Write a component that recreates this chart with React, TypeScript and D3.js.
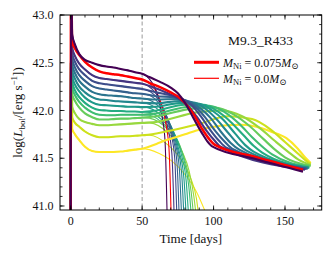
import * as d3 from "d3";

// shared early part (shock breakout + plateau), times in days
const earlyTimes = [0, 0.2, 1, 3, 6, 10, 15, 20, 25, 30, 35, 40, 45, 50];

// log L for each model at earlyTimes, brightest (purple) to faintest (yellow)
const earlyLum: number[][] = [
  [40.5, 43.6, 42.8, 42.69, 42.59, 42.53, 42.5, 42.475, 42.46, 42.45, 42.435, 42.42, 42.4, 42.385],
  [40.5, 43.6, 42.72, 42.65, 42.58, 42.51, 42.45, 42.41, 42.39, 42.38, 42.37, 42.355, 42.34, 42.325],
  [40.5, 43.6, 42.66, 42.57, 42.49, 42.43, 42.37, 42.34, 42.33, 42.32, 42.31, 42.3, 42.29, 42.28],
  [40.5, 43.6, 42.6, 42.51, 42.43, 42.37, 42.31, 42.285, 42.275, 42.265, 42.255, 42.245, 42.235, 42.225],
  [40.5, 43.6, 42.54, 42.45, 42.37, 42.31, 42.255, 42.23, 42.22, 42.21, 42.2, 42.19, 42.18, 42.175],
  [40.5, 43.6, 42.48, 42.39, 42.31, 42.25, 42.195, 42.17, 42.16, 42.155, 42.15, 42.14, 42.13, 42.125],
  [40.5, 43.6, 42.42, 42.33, 42.25, 42.19, 42.14, 42.115, 42.11, 42.1, 42.095, 42.09, 42.085, 42.08],
  [40.5, 43.6, 42.36, 42.27, 42.2, 42.135, 42.085, 42.06, 42.055, 42.05, 42.045, 42.04, 42.04, 42.035],
  [40.5, 43.6, 42.3, 42.21, 42.14, 42.08, 42.03, 42.005, 42.0, 41.995, 41.995, 41.99, 41.99, 41.985],
  [40.5, 43.6, 42.24, 42.16, 42.09, 42.03, 41.98, 41.955, 41.95, 41.95, 41.955, 41.955, 41.955, 41.955],
  [40.5, 43.6, 42.17, 42.1, 42.03, 41.97, 41.93, 41.905, 41.905, 41.91, 41.915, 41.915, 41.92, 41.925],
  [40.5, 43.6, 42.04, 41.97, 41.91, 41.88, 41.86, 41.845, 41.845, 41.85, 41.855, 41.86, 41.865, 41.87],
  [40.5, 43.6, 41.93, 41.87, 41.83, 41.78, 41.74, 41.72, 41.72, 41.725, 41.73, 41.73, 41.735, 41.74],
  [40.5, 43.6, 41.81, 41.75, 41.69, 41.62, 41.575, 41.565, 41.565, 41.565, 41.57, 41.58, 41.59, 41.6],
];

// M_Ni = 0.075: end of plateau, drop and radioactive tail
const thickLate: [number, number][][] = [
  [[55, 42.35], [62.5, 42.3], [70, 42.24], [75, 42.18], [80, 42.08], [85.6, 41.93], [92, 41.76], [95.5, 41.68], [99, 41.625], [130, 41.49], [162.6, 41.36]],
  [[55, 42.29], [62.5, 42.245], [70, 42.19], [76.5, 42.13], [81, 42.06], [85.6, 41.97], [92.7, 41.79], [97, 41.7], [101, 41.64], [130, 41.51], [162.6, 41.38]],
  [[60, 42.23], [68, 42.18], [75, 42.13], [82, 42.05], [88, 41.94], [95, 41.79], [101, 41.68], [105, 41.62], [164, 41.38]],
  [[60, 42.19], [70, 42.16], [78, 42.12], [85, 42.05], [91, 41.94], [98, 41.79], [104, 41.68], [109, 41.61], [165, 41.39]],
  [[60, 42.15], [72, 42.14], [81, 42.1], [88, 42.03], [94, 41.93], [101, 41.79], [108, 41.67], [113, 41.6], [165, 41.39]],
  [[60, 42.115], [74, 42.12], [84, 42.09], [91, 42.02], [98, 41.92], [105, 41.78], [112, 41.66], [118, 41.59], [166, 41.39]],
  [[60, 42.075], [76, 42.1], [87, 42.08], [95, 42.01], [102, 41.91], [110, 41.77], [117, 41.65], [123, 41.58], [166, 41.4]],
  [[60, 42.04], [78, 42.08], [90, 42.07], [99, 42.0], [107, 41.9], [115, 41.76], [122, 41.64], [128, 41.57], [167, 41.4]],
  [[60, 42.0], [80, 42.06], [93, 42.06], [103, 41.99], [112, 41.88], [121, 41.74], [128, 41.63], [134, 41.56], [167, 41.4]],
  [[60, 41.97], [82, 42.04], [97, 42.05], [108, 41.98], [118, 41.86], [127, 41.72], [135, 41.61], [141, 41.54], [167, 41.41]],
  [[60, 41.94], [85, 42.02], [101, 42.03], [114, 41.96], [125, 41.84], [135, 41.7], [143, 41.59], [150, 41.51], [168, 41.42]],
  [[60, 41.88], [88, 41.98], [106, 42.0], [120, 41.94], [132, 41.82], [143, 41.68], [152, 41.57], [160, 41.48], [168, 41.43]],
  [[60, 41.76], [90, 41.86], [110, 41.94], [127, 41.91], [140, 41.8], [150, 41.67], [159, 41.55], [165, 41.47], [168, 41.44]],
  [[60, 41.65], [67, 41.69], [80, 41.75], [88, 41.79], [105, 41.84], [120, 41.85], [130, 41.83], [140, 41.78], [151, 41.71], [159, 41.6], [164, 41.51], [168, 41.45]],
];

// M_Ni = 0.0: plateau falls off the bottom
const thinLate: [number, number][][] = [
  [[53, 42.36], [57, 42.29], [60.5, 42.18], [64, 41.93], [66, 41.69], [67.5, 40.9]],
  [[54, 42.3], [59, 42.22], [63, 42.09], [66.5, 41.87], [68.8, 41.6], [70.3, 40.9]],
  [[54, 42.26], [60, 42.17], [64.5, 42.03], [68, 41.82], [70.8, 41.55], [72.4, 40.9]],
  [[54, 42.21], [61, 42.12], [66, 41.98], [70, 41.77], [72.8, 41.5], [74.3, 40.9]],
  [[55, 42.16], [62, 42.07], [67.5, 41.93], [71.5, 41.72], [74.4, 41.45], [75.9, 40.9]],
  [[55, 42.11], [63, 42.02], [69, 41.88], [73, 41.67], [76, 41.4], [77.6, 40.9]],
  [[55, 42.065], [64, 41.97], [70.5, 41.83], [74.5, 41.62], [77.6, 41.35], [79.2, 40.9]],
  [[55, 42.025], [65, 41.92], [72, 41.78], [76, 41.57], [79.2, 41.3], [80.8, 40.9]],
  [[55, 41.98], [66, 41.87], [73.5, 41.73], [77.8, 41.52], [80.9, 41.25], [82.5, 40.9]],
  [[55, 41.95], [67, 41.83], [75, 41.68], [79.5, 41.47], [82.7, 41.2], [84.4, 40.9]],
  [[55, 41.92], [68, 41.8], [76.5, 41.63], [81, 41.42], [84.3, 41.15], [86, 40.9]],
  [[55, 41.87], [69, 41.75], [78, 41.57], [83, 41.36], [86.2, 41.1], [87.8, 40.9]],
  [[55, 41.74], [68, 41.64], [78, 41.47], [84, 41.29], [88, 41.08], [89.6, 40.9]],
  [[55, 41.59], [62, 41.55], [70, 41.48], [80, 41.33], [88, 41.15], [95.3, 40.9]],
];

const highlight = 1; // model drawn in red
const modelName = "M9.3_R433";
const legendNi = ["0.075", "0.0"];
const xTicks = [0, 50, 100, 150];
const yTicks = [41.0, 41.5, 42.0, 42.5, 43.0];
const markTime = 50;

const FONT = "Liberation Serif, DejaVu Serif, serif";

export default function App() {
  const W = 332;
  const H = 257;
  const x = d3.scaleLinear().domain([-7.5, 175.7]).range([60, 321.7]);
  const y = d3.scaleLinear().domain([40.958, 43.0]).range([210, 15]);
  const [x0, x1] = x.range();
  const [y0, y1] = y.range();

  const line = d3
    .line<[number, number]>()
    .x((d) => x(d[0]))
    .y((d) => y(d[1]))
    .curve(d3.curveMonotoneX);

  const n = earlyLum.length;
  const color = (i: number) => (i === highlight ? "#ff0000" : d3.interpolateViridis(i / (n - 1)));
  const early = (i: number) => earlyTimes.map((t, k) => [t, earlyLum[i][k]] as [number, number]);

  // faintest first so the bright ones sit on top
  const order = d3.range(n).reverse();

  const xMinor = d3.range(0, 180, 10);
  const yMinor = d3.range(41.0, 43.01, 0.1);

  const txt = { fontFamily: FONT };

  return (
    <svg width={W} height={H} style={{ position: "absolute", left: 0, top: 0, background: "#fff", fontFamily: FONT }}>
      <defs>
        <clipPath id="plot">
          <rect x={x0} y={y1} width={x1 - x0} height={y0 - y1} />
        </clipPath>
      </defs>

      <line x1={x(markTime)} x2={x(markTime)} y1={y1} y2={y0} stroke="#999" strokeWidth={1} strokeDasharray="4,2.5" />

      <g clipPath="url(#plot)" fill="none" strokeLinejoin="round">
        {order.map((i) => (
          <path key={"thin" + i} d={line(early(i).concat(thinLate[i])) ?? ""} stroke={color(i)} strokeWidth={1.1} />
        ))}
        {order.map((i) => (
          <path
            key={"thick" + i}
            d={line(early(i).concat(thickLate[i])) ?? ""}
            stroke={color(i)}
            strokeWidth={i === highlight ? 2.5 : 2.1}
          />
        ))}
      </g>

      {/* ticks on all sides, pointing in */}
      <g stroke="#000" strokeWidth={0.8}>
        {xMinor.map((t) => (
          <g key={"xm" + t}>
            <line x1={x(t)} x2={x(t)} y1={y0} y2={y0 - 2.5} />
            <line x1={x(t)} x2={x(t)} y1={y1} y2={y1 + 2.5} />
          </g>
        ))}
        {xTicks.map((t) => (
          <g key={"xt" + t}>
            <line x1={x(t)} x2={x(t)} y1={y0} y2={y0 - 4.5} />
            <line x1={x(t)} x2={x(t)} y1={y1} y2={y1 + 4.5} />
          </g>
        ))}
        {yMinor.map((v) => (
          <g key={"ym" + v.toFixed(1)}>
            <line x1={x0} x2={x0 + 2.5} y1={y(v)} y2={y(v)} />
            <line x1={x1} x2={x1 - 2.5} y1={y(v)} y2={y(v)} />
          </g>
        ))}
        {yTicks.map((v) => (
          <g key={"yt" + v}>
            <line x1={x0} x2={x0 + 4.5} y1={y(v)} y2={y(v)} />
            <line x1={x1} x2={x1 - 4.5} y1={y(v)} y2={y(v)} />
          </g>
        ))}
      </g>
      <rect x={x0} y={y1} width={x1 - x0} height={y0 - y1} fill="none" stroke="#000" strokeWidth={1} />

      <g fontSize={12} fill="#111" style={txt}>
        {xTicks.map((t) => (
          <text key={"xl" + t} x={x(t)} y={225} textAnchor="middle" style={txt}>
            {t}
          </text>
        ))}
        {yTicks.map((v) => (
          <text key={"yl" + v} x={53.5} y={y(v) + 4.2} textAnchor="end" style={txt}>
            {v.toFixed(1)}
          </text>
        ))}
      </g>

      <text x={(x0 + x1) / 2} y={243} textAnchor="middle" fontSize={13} fill="#111" style={txt}>
        Time [days]
      </text>

      <text
        transform={`translate(22,${(y0 + y1) / 2}) rotate(-90)`}
        textAnchor="middle"
        fontSize={13}
        fill="#111"
        style={txt}
      >
        log(<tspan fontStyle="italic">L</tspan>
        <tspan fontSize={9} dy={2.5}>bol</tspan>
        <tspan dy={-2.5}>/[erg s</tspan>
        <tspan fontSize={9} dy={-5}>−1</tspan>
        <tspan dy={5}>])</tspan>
      </text>

      {/* legend */}
      <text x={228} y={44.5} fontSize={13.5} fill="#111" style={txt}>
        {modelName}
      </text>
      {legendNi.map((m, k) => (
        <g key={"lg" + m}>
          <line
            x1={194}
            x2={219}
            y1={62.3 + k * 16}
            y2={62.3 + k * 16}
            stroke="#ff0000"
            strokeWidth={k === 0 ? 3 : 1.2}
          />
          <text x={223} y={66.5 + k * 16} fontSize={12} fill="#111" style={txt}>
            <tspan fontStyle="italic">M</tspan>
            <tspan fontSize={8.5} dy={2.5}>Ni</tspan>
            <tspan dy={-2.5}>{" = " + m}</tspan>
            <tspan fontStyle="italic">M</tspan>
            <tspan fontSize={8.5} dy={2.5}>⊙</tspan>
          </text>
        </g>
      ))}
    </svg>
  );
}
